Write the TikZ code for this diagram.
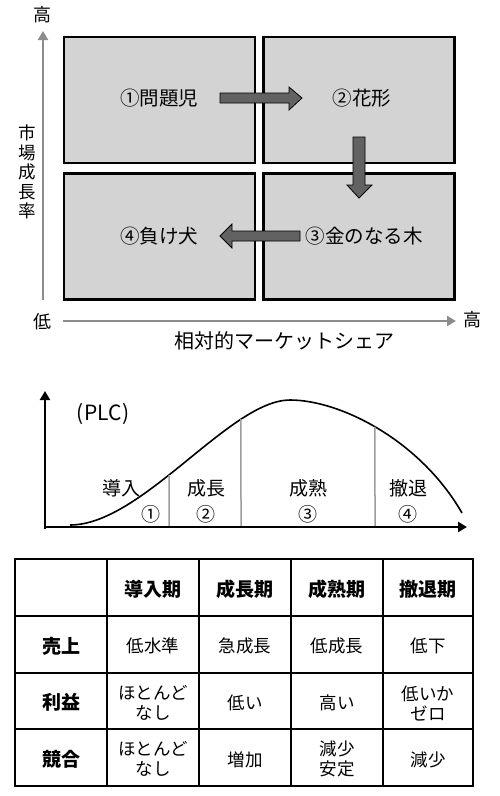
\documentclass[tikz,border=0pt]{standalone}
\usepackage{fontspec}
\setmainfont{Noto Sans CJK JP}
\usetikzlibrary{arrows.meta,intersections}
\definecolor{boxgray}{HTML}{D3D3D3}
\definecolor{arrowgray}{HTML}{626262}
\definecolor{axisgray}{HTML}{8C8C8C}
\definecolor{divgray}{HTML}{9C9C9C}
\begin{document}
\begin{tikzpicture}[x=1pt,y=-1pt,
  quad/.style={draw=black,line width=2.4pt,fill=boxgray,minimum width=191pt,minimum height=126pt,inner sep=0pt},
  qlabel/.style={font=\fontsize{19.5}{21}\selectfont,inner sep=0pt},
  axlabel/.style={font=\fontsize{18}{19}\selectfont,inner sep=0pt},
  fatarrow/.style={draw=black,line width=0.8pt,fill=arrowgray},
  grayaxis/.style={draw=axisgray,line width=2.6pt,-{Triangle[length=9pt,width=10pt]}},
  blackaxis/.style={draw=black,line width=2.8pt,-{Triangle[length=9pt,width=10pt]}},
  plclabel/.style={font=\fontsize{19}{20}\selectfont,inner sep=0pt},
  divider/.style={draw=divgray,line width=1.5pt},
  cell/.style={font=\fontsize{17.5}{20}\selectfont,align=center,inner sep=0pt},
  headcell/.style={font=\fontsize{19}{20}\selectfont\bfseries,align=center,inner sep=0pt},
  gridline/.style={draw=black,line width=2pt}
]
\useasboundingbox (0,0) rectangle (500,796);

% ---------- BCG matrix ----------
\node[quad] (q1) at (159.5,100) {};
\node[quad] (q2) at (359,100) {};
\node[quad] (q4) at (159.5,236.5) {};
\node[quad] (q3) at (359,236.5) {};

\node[qlabel] (l1) at (159,98) {①問題児};
\node[qlabel] (l2) at (362,98) {②花形};
\node[qlabel] (l3) at (364,236) {③金のなる木};
\node[qlabel] (l4) at (159,236) {④負け犬};

% fat arrows
\draw[fatarrow] (220,93) -- (289,93) -- (289,87) -- (302,98) -- (289,110) -- (289,103) -- (220,103) -- cycle;
\draw[fatarrow] (353,137) -- (365,137) -- (365,185) -- (372,185) -- (359,198) -- (347,185) -- (353,185) -- cycle;
\draw[fatarrow] (300,231) -- (232,231) -- (232,224) -- (220,236) -- (232,248) -- (232,241) -- (300,241) -- cycle;

% axes
\coordinate (vstart) at (43,300);
\coordinate (vend) at (43,31);
\coordinate (hstart) at (63,321);
\coordinate (hend) at (456,321);
\draw[grayaxis] (vstart) -- (vend);
\draw[grayaxis] (hstart) -- (hend);

\node[axlabel] (hiY) at (43,15) {高};
\node[axlabel] (lo) at (43,322) {低};
\node[axlabel] (hiX) at (472,320) {高};
\node[axlabel,align=center,font=\fontsize{17.5}{19.5}\selectfont] (ylab) at (27,172) {市\\場\\成\\長\\率};
\node[axlabel,font=\fontsize{20}{21}\selectfont] (xlab) at (284,341) {相対的マーケットシェア};

% ---------- PLC ----------
\coordinate (po) at (45,527);
\coordinate (py) at (45,391);
\coordinate (px) at (467,527);
\draw[line width=1.6pt,name path=plccurve] (70,525) .. controls (142,525) and (230,400) .. (290,400)
  .. controls (340,400) and (420,440) .. (462,513);
\path[name path=d1] (169,380) -- (169,527);
\path[name path=d2] (241,380) -- (241,527);
\path[name path=d3] (375,380) -- (375,527);
\path[name intersections={of=plccurve and d1,by=i1}];
\path[name intersections={of=plccurve and d2,by=i2}];
\path[name intersections={of=plccurve and d3,by=i3}];
\coordinate (b1) at (169,527);
\coordinate (b2) at (241,527);
\coordinate (b3) at (375,527);
\draw[divider] (i1) -- (b1);
\draw[divider] (i2) -- (b2);
\draw[divider] (i3) -- (b3);
\draw[blackaxis] (45,529) -- (py);
\draw[blackaxis] (43.6,527) -- (px);

\node[plclabel,font=\fontsize{21}{22}\selectfont] (plc) at (103,414) {(\kern1ptPLC\kern1pt)};
\node[plclabel] (s1) at (121,488) {導入};
\node[plclabel] (n1) at (151,514) {①};
\node[plclabel] (s2) at (206,488) {成長};
\node[plclabel] (n2) at (206,514) {②};
\node[plclabel] (s3) at (308,488) {成熟};
\node[plclabel] (n3) at (308,514) {③};
\node[plclabel] (s4) at (408,488) {撤退};
\node[plclabel] (n4) at (408,514) {④};

% ---------- Table ----------
\draw[gridline,line width=2.6pt] (15,559) rectangle (473,786);
\foreach \x in {107,199,291,383} \draw[gridline] (\x,559) -- (\x,786);
\foreach \y in {616,673,729} \draw[gridline] (15,\y) -- (473,\y);

\node[headcell] (h1) at (153,589) {導入期};
\node[headcell] (h2) at (245,589) {成長期};
\node[headcell] (h3) at (337,589) {成熟期};
\node[headcell] (h4) at (428,589) {撤退期};

\node[headcell] (r1) at (61,646) {売上};
\node[headcell] (r2) at (61,702) {利益};
\node[headcell] (r3) at (61,759) {競合};

\node[cell] (c11) at (153,646) {低水準};
\node[cell] (c12) at (245,646) {急成長};
\node[cell] (c13) at (337,646) {低成長};
\node[cell] (c14) at (428,646) {低下};

\node[cell] (c21) at (153,703) {ほとんど\\なし};
\node[cell] (c22) at (245,703) {低い};
\node[cell] (c23) at (337,703) {高い};
\node[cell] (c24) at (428,703) {低いか\\ゼロ};

\node[cell] (c31) at (153,759) {ほとんど\\なし};
\node[cell] (c32) at (245,760) {増加};
\node[cell] (c33) at (337,759) {減少\\安定};
\node[cell] (c34) at (428,760) {減少};
\end{tikzpicture}
\end{document}
